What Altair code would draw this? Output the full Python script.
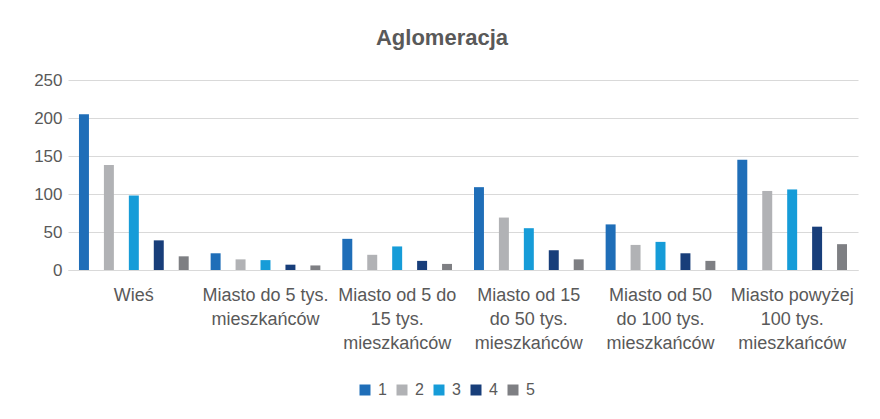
import altair as alt
import pandas as pd

categories = [
    "Wieś",
    "Miasto do 5 tys.|mieszkańców",
    "Miasto od 5 do|15 tys.|mieszkańców",
    "Miasto od 15|do 50 tys.|mieszkańców",
    "Miasto od 50|do 100 tys.|mieszkańców",
    "Miasto powyżej|100 tys.|mieszkańców",
]
series = ["1", "2", "3", "4", "5"]
values_1 = [205, 22, 41, 109, 60, 145]
values_2 = [138, 14, 20, 69, 33, 104]
values_3 = [98, 13, 31, 55, 37, 106]
values_4 = [39, 7, 12, 26, 22, 57]
values_5 = [18, 6, 8, 14, 12, 34]
colors = ["#1F6EB8", "#B1B2B5", "#169CD8", "#183E7A", "#7E7F83"]

rows = []
for s, vals in zip(series, [values_1, values_2, values_3, values_4, values_5]):
    for c, v in zip(categories, vals):
        rows.append({"kategoria": c, "seria": s, "wartosc": v})
df = pd.DataFrame(rows)

FONT = "Liberation Sans"
GREY = "#595959"

chart = (
    alt.Chart(df)
    .mark_bar()
    .encode(
        x=alt.X(
            "kategoria:N",
            sort=categories,
            scale=alt.Scale(paddingInner=0, paddingOuter=0),
            axis=alt.Axis(
                title=None,
                labelAngle=0,
                labelExpr="split(datum.label, '|')",
                labelLineHeight=24,
                labelBaseline="top",
                labelPadding=16,
                labelLimit=200,
                labelFontSize=18,
                labelColor=GREY,
                labelFont=FONT,
                ticks=False,
                domainColor="#D9D9D9",
                domainWidth=1,
            ),
        ),
        xOffset=alt.XOffset(
            "seria:N",
            sort=series,
            scale=alt.Scale(paddingInner=0.6, paddingOuter=0.44),
        ),
        y=alt.Y(
            "wartosc:Q",
            scale=alt.Scale(domain=[0, 250]),
            axis=alt.Axis(
                title=None,
                values=[0, 50, 100, 150, 200, 250],
                labelFontSize=17,
                labelColor=GREY,
                labelFont=FONT,
                labelPadding=6,
                ticks=False,
                domain=False,
                gridColor="#D9D9D9",
                gridWidth=1,
            ),
        ),
        color=alt.Color(
            "seria:N",
            sort=series,
            scale=alt.Scale(domain=series, range=colors),
            legend=alt.Legend(
                title=None,
                orient="none",
                direction="horizontal",
                legendX=289,
                legendY=302,
                symbolType="square",
                symbolSize=121,
                symbolStrokeWidth=0,
                labelFontSize=16,
                labelColor=GREY,
                labelFont=FONT,
                labelOffset=5,
                columnPadding=7,
            ),
        ),
    )
    .properties(
        width=790,
        height=190,
        autosize=alt.AutoSizeParams(type="none"),
        padding={"left": 60, "top": 72, "right": 14, "bottom": 140},
        title=alt.TitleParams(
            "Aglomeracja",
            fontSize=22,
            font=FONT,
            fontWeight="bold",
            color=GREY,
            anchor="middle",
            dx=-21,
            offset=21,
        ),
    )
    .configure_view(stroke=None)
)

chart.save("out.html", embed_options={"renderer": "svg", "actions": False})
